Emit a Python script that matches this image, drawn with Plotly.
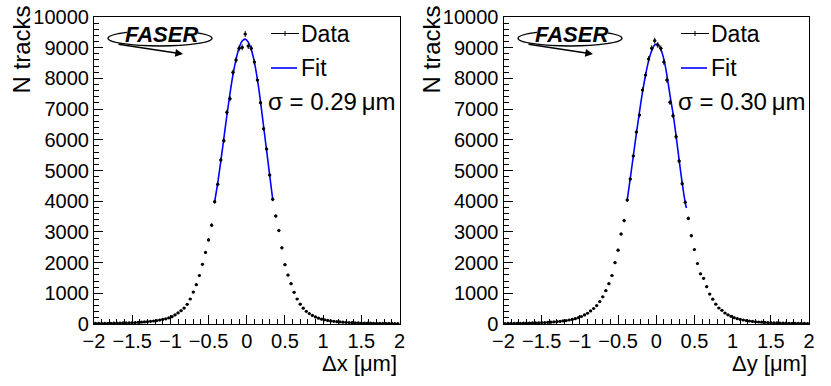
"""
Track residual distributions (FASER) with Gaussian core fits.
Two panels: residual in x and residual in y.
"""

import numpy as np
import plotly.graph_objects as go

# histogram binning: 100 bins from -2 to 2 um
bin_centers = np.round(np.arange(-1.98, 2.0, 0.04), 2)

# counts per bin (left: dx, right: dy)
dx_counts = [
    18, 19, 20, 21, 23, 25, 27, 29, 31, 34,
    37, 40, 44, 48, 54, 60, 67, 76, 86, 98,
    112, 128, 148, 170, 200, 240, 295, 360, 435, 520,
    640, 815, 1040, 1280, 1580, 1945, 2330, 2740, 3220, 3984,
    4550, 5342, 5971, 6895, 7340, 8198, 8599, 8979, 9010, 9446,
    9055, 8979, 8534, 7948, 7210, 6362, 5700, 4853, 4062, 3518,
    3046, 2480, 1932, 1595, 1314, 1033, 815, 645, 515, 412,
    340, 280, 230, 190, 158, 135, 116, 101, 88, 77,
    68, 60, 54, 48, 43, 39, 36, 33, 30, 28,
    26, 25, 23, 22, 21, 20, 19, 18, 17, 16,
]
dy_counts = [
    17, 19, 20, 21, 23, 25, 27, 29, 31, 34,
    37, 41, 45, 49, 55, 61, 68, 77, 87, 99,
    113, 130, 150, 175, 205, 245, 295, 350, 425, 505,
    600, 730, 885, 1085, 1314, 1580, 1998, 2405, 2932, 3370,
    4039, 4723, 5472, 6254, 6808, 7622, 8111, 8632, 8979, 9229,
    9088, 8979, 8534, 7948, 7221, 6786, 6101, 5309, 4570, 3965,
    3440, 2878, 2426, 1970, 1634, 1488, 1216, 976, 809, 646,
    521, 445, 358, 298, 250, 206, 175, 150, 130, 112,
    97, 85, 74, 65, 58, 52, 47, 42, 38, 35,
    32, 29, 27, 25, 23, 21, 20, 19, 18, 17,
]

# fitted gaussian curves
dx_fit_x = [-0.42, -0.38, -0.34, -0.30, -0.26, -0.22, -0.18, -0.14, -0.10, -0.06,
            -0.02, 0.02, 0.06, 0.10, 0.14, 0.18, 0.22, 0.26, 0.30, 0.34]
dx_fit_y = [3990, 4600, 5300, 6050, 6800, 7500, 8120, 8620, 9000, 9220,
            9280, 9180, 8930, 8530, 7960, 7250, 6450, 5650, 4850, 4060]
dy_fit_x = [-0.38, -0.34, -0.30, -0.26, -0.22, -0.18, -0.14, -0.10, -0.06, -0.02,
            0.02, 0.06, 0.10, 0.14, 0.18, 0.22, 0.26, 0.30, 0.34, 0.38, 0.395]
dy_fit_y = [4040, 4740, 5480, 6210, 6900, 7550, 8110, 8570, 8900, 9090,
            9110, 8950, 8620, 8100, 7450, 6850, 6120, 5340, 4590, 3950, 3780]

sigma_labels = ["σ = 0.29\u2009μm", "σ = 0.30\u2009μm"]
x_titles = ["Δx [μm]", "Δy [μm]"]
y_title = "N tracks"

FONT = "Liberation Sans, Arial, Helvetica, sans-serif"
W, H = 831, 386
M_L, M_R, M_T, M_B = 94, 22, 17, 62
PW = W - M_L - M_R
PH = H - M_T - M_B
PANEL_SHIFT = 410  # pixel offset of the second pad


def px(x):
    return (x - M_L) / PW


def py(y):
    return (H - M_B - y) / PH


fig = go.Figure()

panels = [
    ("x", "y", dx_counts, dx_fit_x, dx_fit_y),
    ("x2", "y2", dy_counts, dy_fit_x, dy_fit_y),
]
for xa, ya, counts, fx, fy in panels:
    fig.add_trace(go.Scatter(
        x=fx, y=fy, xaxis=xa, yaxis=ya, mode="lines", line_shape="spline",
        line=dict(color="#0000ff", width=1.6), showlegend=False, hoverinfo="skip",
    ))
    fig.add_trace(go.Scatter(
        x=bin_centers, y=counts, xaxis=xa, yaxis=ya, mode="markers",
        marker=dict(color="black", size=3.2),
        error_y=dict(type="sqrt", color="black", thickness=1, width=0),
        error_x=dict(type="constant", value=0.02, color="black", thickness=1, width=0),
        showlegend=False,
    ))

axis_common = dict(
    showgrid=False, zeroline=False, showline=True, mirror=True,
    linecolor="black", linewidth=1.2, ticks="inside", tickcolor="black",
    tickfont=dict(family=FONT, size=20, color="black"),
)
xaxis_style = dict(axis_common, range=[-2, 2], tick0=-2, dtick=0.5, ticklen=9,
                   ticklabelstandoff=-1,
                   minor=dict(ticks="inside", dtick=0.1, ticklen=5, tickcolor="black"))
yaxis_style = dict(axis_common, range=[0, 10000], dtick=1000, ticklen=9, tickformat="d",
                   minor=dict(ticks="inside", dtick=200, ticklen=5, tickcolor="black"))

left_dom = [0, px(399.5)]
right_dom = [px(503.5), 1]
fig.update_layout(
    width=W, height=H,
    margin=dict(l=M_L, r=M_R, t=M_T, b=M_B, autoexpand=False),
    paper_bgcolor="white", plot_bgcolor="white",
    xaxis=dict(xaxis_style, domain=left_dom, anchor="y"),
    yaxis=dict(yaxis_style, domain=[0, 1], anchor="x"),
    xaxis2=dict(xaxis_style, domain=right_dom, anchor="y2"),
    yaxis2=dict(yaxis_style, domain=[0, 1], anchor="x2"),
    font=dict(family=FONT, color="black"),
)

annotations = []
shapes = []
for i in range(2):
    dx = PANEL_SHIFT * i

    # axis titles, ROOT style (aligned to axis end)
    annotations.append(dict(
        text=x_titles[i], xref="paper", yref="paper", x=px(398.5 + dx), y=py(363.5),
        xanchor="right", yanchor="middle", showarrow=False, font=dict(size=22)))
    annotations.append(dict(
        text=y_title, xref="paper", yref="paper", x=px(21.5 + dx), y=py(4),
        xanchor="center", yanchor="top", textangle=-90, showarrow=False,
        font=dict(size=24)))

    # legend drawn by hand
    shapes.append(dict(type="line", xref="paper", yref="paper",
                       x0=px(271 + dx), x1=px(299 + dx), y0=py(33.5), y1=py(33.5),
                       line=dict(color="black", width=1)))
    shapes.append(dict(type="line", xref="paper", yref="paper",
                       x0=px(285 + dx), x1=px(285 + dx), y0=py(31), y1=py(36),
                       line=dict(color="black", width=1)))
    shapes.append(dict(type="line", xref="paper", yref="paper",
                       x0=px(271 + dx), x1=px(297 + dx), y0=py(68), y1=py(68),
                       line=dict(color="#0000ff", width=1.6)))
    annotations.append(dict(
        text="Data", xref="paper", yref="paper", x=px(299 + dx), y=py(34),
        xanchor="left", yanchor="middle", showarrow=False, font=dict(size=23)))
    annotations.append(dict(
        text="Fit", xref="paper", yref="paper", x=px(299 + dx), y=py(68),
        xanchor="left", yanchor="middle", showarrow=False, font=dict(size=23)))
    annotations.append(dict(
        text=sigma_labels[i], xref="paper", yref="paper", x=px(266 + dx), y=py(101),
        xanchor="left", yanchor="middle", showarrow=False, font=dict(size=24)))

    # FASER logo: ellipse, text and arrow
    shapes.append(dict(type="circle", xref="paper", yref="paper",
                       x0=px(108 + dx), x1=px(212 + dx), y0=py(30.5), y1=py(46),
                       line=dict(color="black", width=1.3)))
    shapes.append(dict(type="rect", xref="paper", yref="paper",
                       x0=px(127 + dx), x1=px(198 + dx), y0=py(25), y1=py(38),
                       fillcolor="white", line=dict(width=0)))
    annotations.append(dict(
        text="<b><i>FASER</i></b>", xref="paper", yref="paper", x=px(161 + dx),
        y=py(34.5), xanchor="center", yanchor="middle", showarrow=False,
        font=dict(size=22, color="black")))
    annotations.append(dict(
        text="", xref="paper", yref="paper", x=px(183 + dx), y=py(54),
        ax=-66, ay=-10, showarrow=True, arrowhead=2, arrowsize=1.1,
        arrowwidth=1.4, arrowcolor="black"))

fig.update_layout(annotations=annotations, shapes=shapes)

# the page body has a default 8px margin; drop it so the figure sits at the corner
fig.write_html("out.html", config={"displayModeBar": False},
               post_script="document.body.style.margin = '0';")
